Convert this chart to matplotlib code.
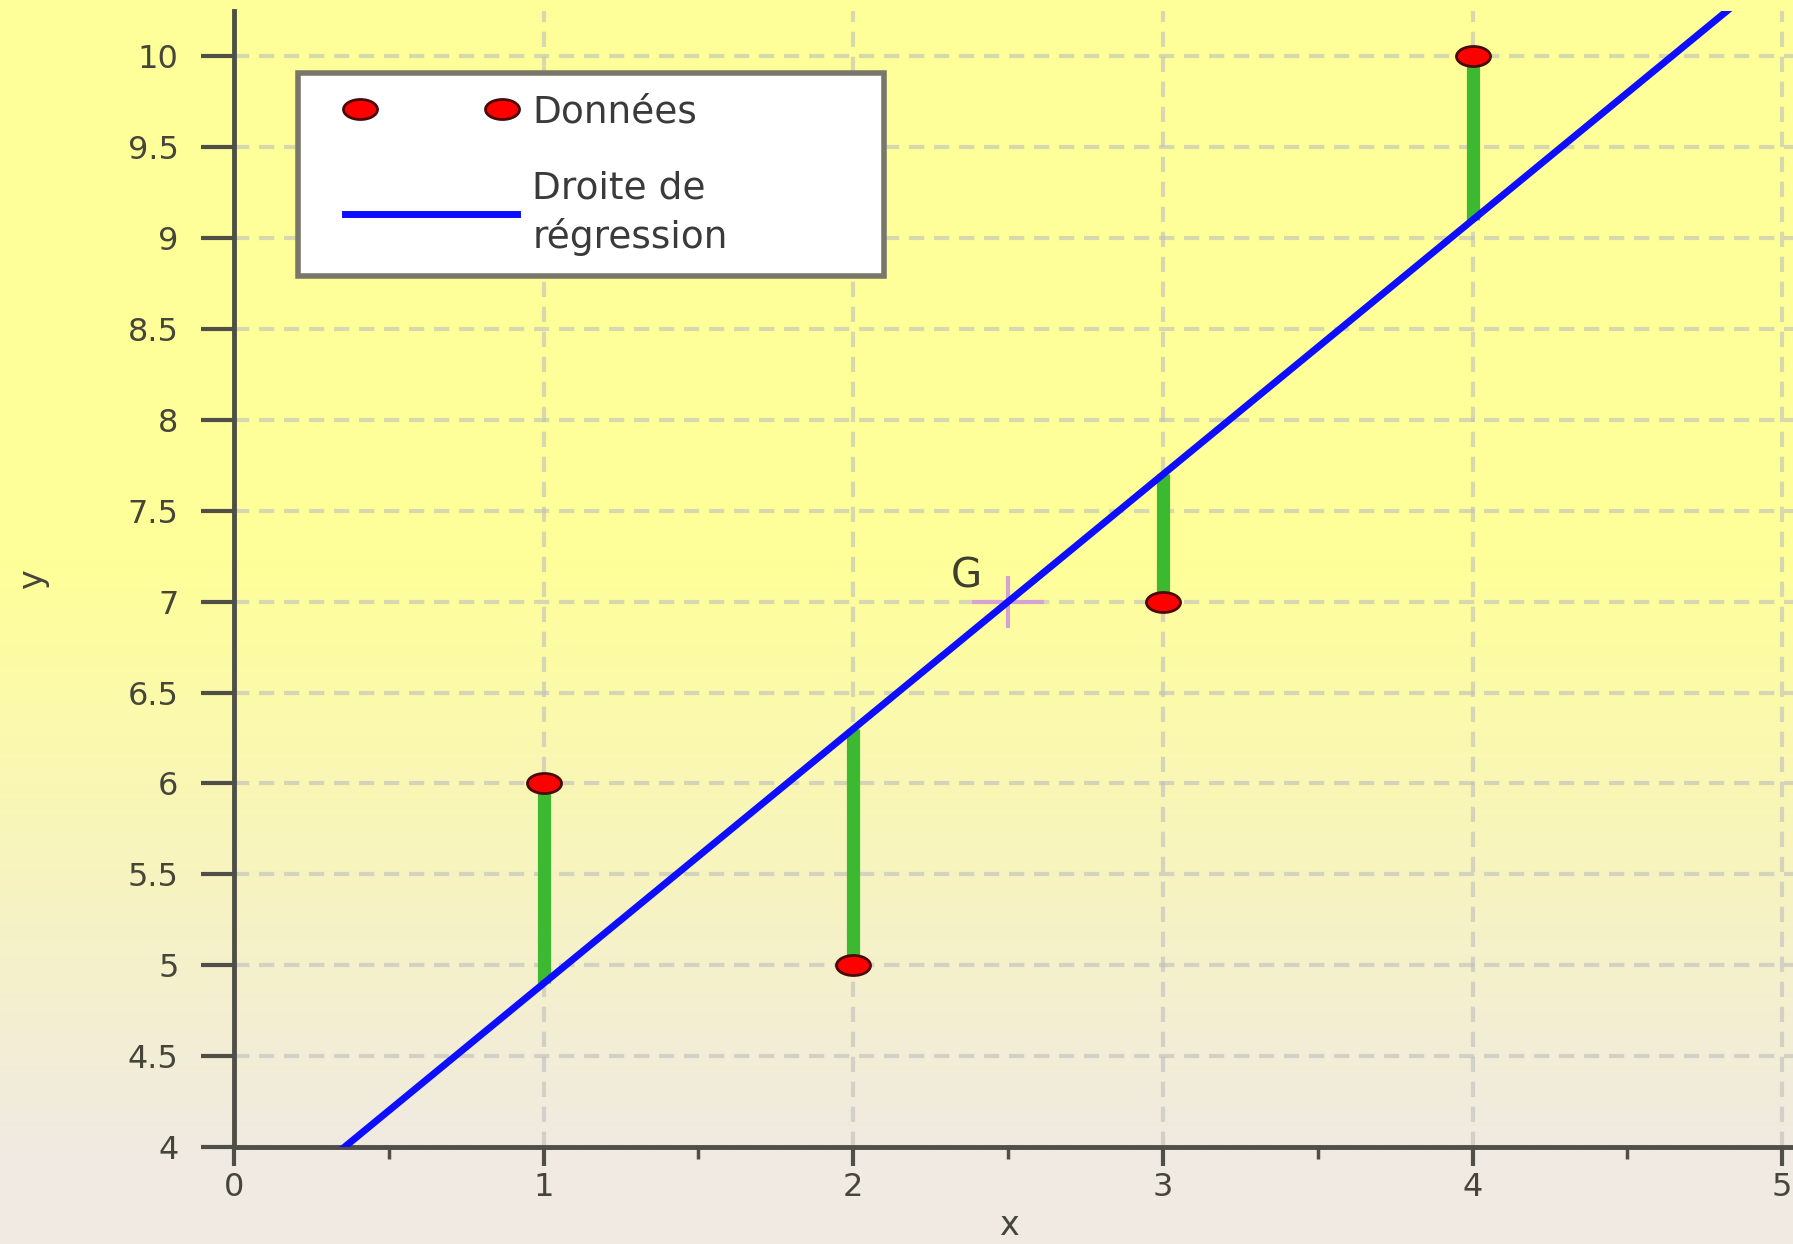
import matplotlib
matplotlib.use("Agg")
import matplotlib.pyplot as plt
import numpy as np
from matplotlib.path import Path
from matplotlib.transforms import Affine2D
from matplotlib.legend_handler import HandlerLine2D
from matplotlib.ticker import MultipleLocator, FormatStrFormatter

# Data points
x_data = [1, 2, 3, 4]
y_data = [6, 5, 7, 10]

legend_labels = ["Données", "Droite de\nrégression"]
point_label = "G"
x_label = "x"
y_label = "y"

W, H, DPI = 1793, 1244, 100
plt.rcParams["lines.scale_dashes"] = False

x = np.array(x_data, dtype=float)
y = np.array(y_data, dtype=float)
slope, intercept = np.polyfit(x, y, 1)
gx, gy = x.mean(), y.mean()

fig = plt.figure(figsize=(W / DPI, H / DPI), dpi=DPI)

# background: yellow at the top fading to beige towards the bottom
rows = np.arange(H)
top_col = np.array([255, 255, 153]) / 255
bot_col = np.array([240, 234, 226]) / 255
t = np.clip((rows - 560) / (1150 - 560), 0, 1)
grad = top_col[None, :] * (1 - t[:, None]) + bot_col[None, :] * t[:, None]
img = np.repeat(grad[:, None, :], W, axis=1)
fig.figimage(img, 0, 0, origin="upper", zorder=-1)

ax = fig.add_axes([234 / W, 97 / H, (W - 234) / W, (1147 - 11) / H])
ax.set_facecolor("none")
ax.set_xlim(0, 5.035)
ax.set_ylim(4, 10.25)

axis_col = "#4f4f47"
text_col = "#45453a"
for s in ["top", "right"]:
    ax.spines[s].set_visible(False)
for s in ["left", "bottom"]:
    ax.spines[s].set_color(axis_col)
    ax.spines[s].set_linewidth(3.5)

ax.xaxis.set_major_locator(MultipleLocator(1))
ax.xaxis.set_minor_locator(MultipleLocator(0.5))
ax.yaxis.set_major_locator(MultipleLocator(0.5))
ax.yaxis.set_major_formatter(FormatStrFormatter("%g"))
ax.tick_params(axis="y", direction="out", length=24, width=3, pad=16,
               labelsize=23, color=axis_col, labelcolor=text_col)
ax.tick_params(axis="x", which="major", direction="out", length=14, width=3,
               pad=4, labelsize=23, color=axis_col, labelcolor=text_col)
ax.tick_params(axis="x", which="minor", direction="out", length=8.5,
               width=2.5, color=axis_col)

ax.grid(True, which="major", color="#bebebe", alpha=0.6, linewidth=3,
        linestyle=(0, (11, 7)))
ax.set_axisbelow(True)

# residuals between each point and the fitted line
y_fit = slope * x + intercept
ax.vlines(x, y, y_fit, colors="#3cb831", linewidth=9.5, zorder=3)

# regression line across the whole x range
xs = np.array(ax.get_xlim())
reg_line, = ax.plot(xs, slope * xs + intercept, color="#0d0dff", lw=5,
                    zorder=4, label=legend_labels[1])

# centre of gravity G
plus = Path([(-1.4, 0), (1.4, 0), (0, -1), (0, 1)],
            [Path.MOVETO, Path.LINETO, Path.MOVETO, Path.LINETO])
ax.plot([gx], [gy], linestyle="none", marker=plus, markersize=52,
        fillstyle="none", markeredgecolor="#d6a2d2", markeredgewidth=3,
        zorder=3.5)
ax.annotate(point_label, (gx, gy), xytext=(-30, 18), textcoords="offset points",
            ha="center", va="center", fontsize=29, color="#3d3d30")

# data points
ellipse = Path.unit_circle().transformed(Affine2D().scale(1.7, 1.0))
data_line, = ax.plot(x, y, linestyle="none", marker=ellipse, markersize=24.5,
                     markerfacecolor="#ff0000", markeredgecolor="#4a0a0a",
                     markeredgewidth=2, zorder=5, clip_on=False,
                     label=legend_labels[0])

leg = ax.legend([data_line, reg_line], legend_labels, loc="upper left",
                bbox_to_anchor=(0.041, 0.0, 0.376, 0.945), mode="expand",
                borderaxespad=0, fontsize=27, borderpad=0.55, labelspacing=1.07,
                handlelength=6.0, handletextpad=-0.3, numpoints=2,
                fancybox=False, framealpha=1, facecolor="white",
                edgecolor="#78786a",
                handler_map={data_line: HandlerLine2D(marker_pad=1.1),
                             reg_line: HandlerLine2D(marker_pad=0.7)})
leg.get_frame().set_linewidth(4)
for txt in leg.get_texts():
    txt.set_color("#3a3a3a")
    txt.set_linespacing(1.38)

ax.set_xlabel(x_label, fontsize=24, color=text_col)
ax.xaxis.set_label_coords(0.497, -0.055)
ax.set_ylabel(y_label, fontsize=24, color=text_col, va="center")
ax.yaxis.set_label_coords(-0.129, 0.5)

fig.savefig("out.png", dpi=DPI)
